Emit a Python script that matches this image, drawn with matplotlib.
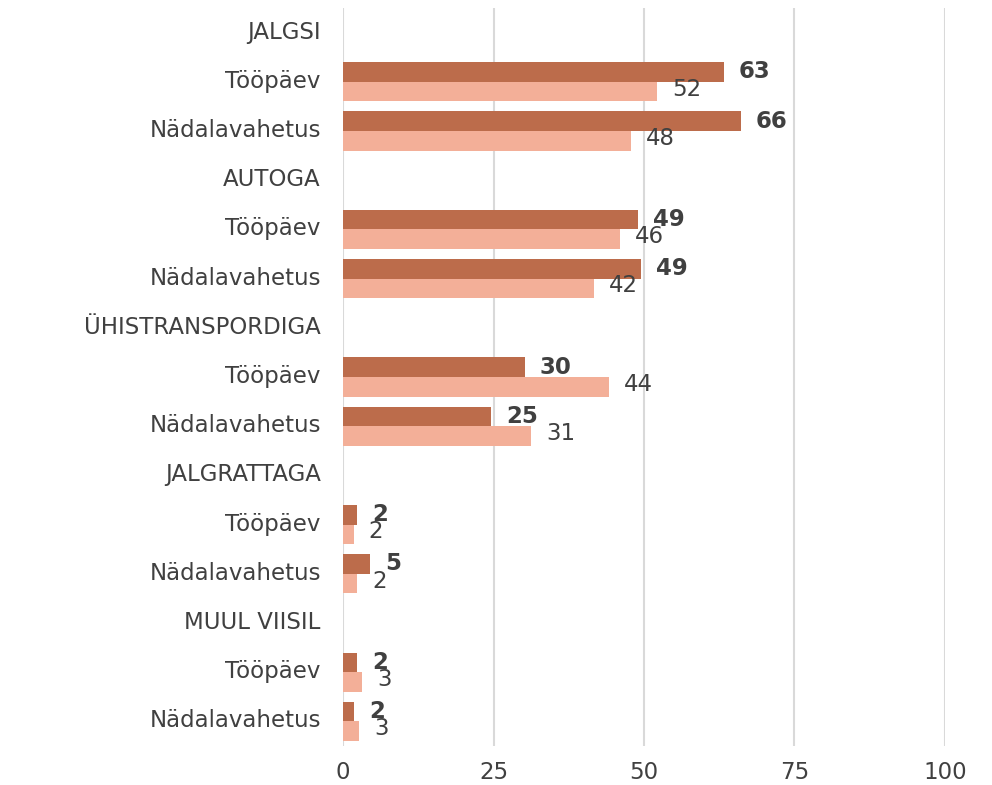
import numpy as np
import matplotlib.pyplot as plt
import matplotlib.transforms as mtransforms

# ====================== DATA ======================
row_labels = ['JALGSI', 'Tööpäev', 'Nädalavahetus',
              'AUTOGA', 'Tööpäev', 'Nädalavahetus',
              'ÜHISTRANSPORDIGA', 'Tööpäev', 'Nädalavahetus',
              'JALGRATTAGA', 'Tööpäev', 'Nädalavahetus',
              'MUUL VIISIL', 'Tööpäev', 'Nädalavahetus']
# None = group header row (no bars)
dark_values = [None, 63.3, 66.1, None, 49.0, 49.5, None, 30.2, 24.6, None, 2.3, 4.5, None, 2.3, 1.8]
light_values = [None, 52.2, 47.8, None, 46.0, 41.7, None, 44.2, 31.2, None, 1.8, 2.3, None, 3.2, 2.7]
dark_labels = [None, '63', '66', None, '49', '49', None, '30', '25', None, '2', '5', None, '2', '2']
light_labels = [None, '52', '48', None, '46', '42', None, '44', '31', None, '2', '2', None, '3', '3']
xticks = [0, 25, 50, 75, 100]

# ====================== STYLE ======================
plt.rcParams['font.family'] = ['DejaVu Sans']
text_col = '#404040'
dark_col = '#BC6C4B'
light_col = '#F3AF98'
fs = 16.5

fig = plt.figure(figsize=(9.92, 7.85), dpi=100)
ax = fig.add_axes([0.3458, 0.0497, 0.6068, 0.9401])

y = np.arange(len(row_labels))
h = 0.4
for i in range(len(row_labels)):
    if dark_values[i] is None:
        continue
    ax.barh(y[i] - h / 2, dark_values[i], height=h, color=dark_col, zorder=3)
    ax.barh(y[i] + h / 2, light_values[i], height=h, color=light_col, zorder=3)
    ax.annotate(dark_labels[i], (dark_values[i], y[i] - h / 2),
                xytext=(15, 0), textcoords='offset pixels', ha='left', va='center',
                fontsize=fs, fontweight='bold', color=text_col, zorder=4)
    ax.annotate(light_labels[i], (light_values[i], y[i] + h / 2 - 0.05),
                xytext=(15, 0), textcoords='offset pixels', ha='left', va='center',
                fontsize=fs, color=text_col, zorder=4)

ax.set_ylim(len(row_labels) - 0.5, -0.5)
ax.set_xlim(0, 100)
ax.set_yticks(y)
ax.set_yticklabels(row_labels, fontsize=fs, color=text_col)
ax.set_xticks(xticks)
ax.set_xticklabels([str(t) for t in xticks], fontsize=fs, color=text_col)
ax.tick_params(axis='both', length=0)
ax.tick_params(axis='y', pad=16)
ax.tick_params(axis='x', pad=11)
# nudge row labels up a little
shift = mtransforms.ScaledTranslation(0, 3 / 100, fig.dpi_scale_trans)
for lab in ax.get_yticklabels():
    lab.set_transform(lab.get_transform() + shift)
ax.grid(axis='x', color='#D9D9D9', linewidth=1.5, zorder=0)
for s in ax.spines.values():
    s.set_visible(False)

plt.savefig('out.png', dpi=100)
